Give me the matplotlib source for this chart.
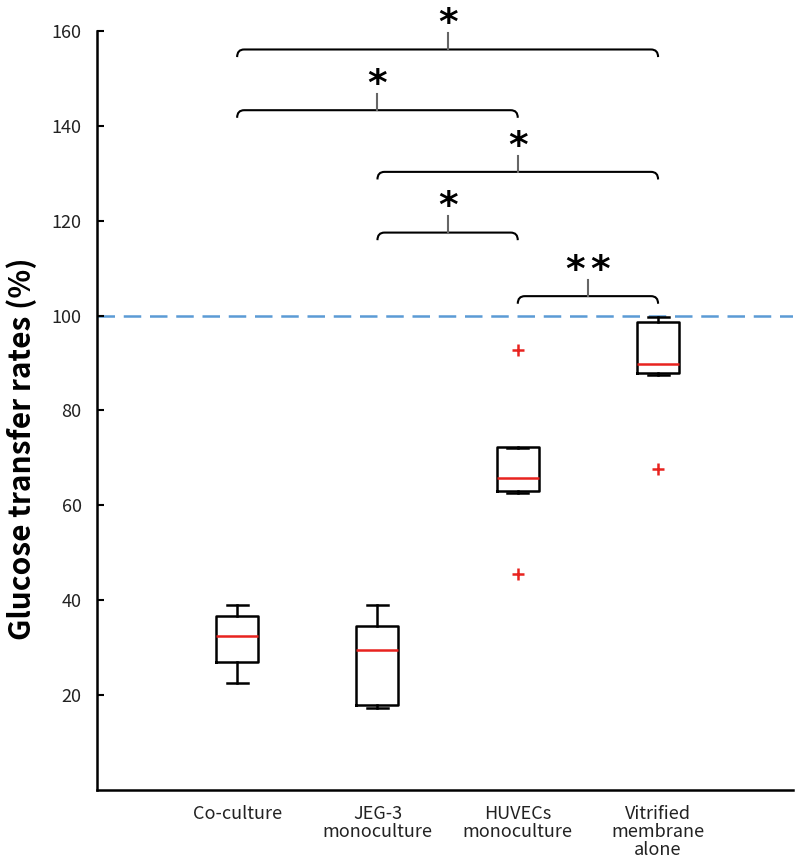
import matplotlib
matplotlib.use("Agg")
import matplotlib.pyplot as plt
from matplotlib.path import Path
from matplotlib.patches import PathPatch

plt.rcParams['font.family'] = ['Noto Sans CJK KR', 'DejaVu Sans']

groups = ["Co-culture", "JEG-3\nmonoculture", "HUVECs\nmonoculture", "Vitrified\nmembrane\nalone"]
whislo = [22.5, 17.2, 62.5, 87.4]
q1 = [27.0, 18.0, 63.1, 87.9]
med = [32.4, 29.6, 65.7, 89.8]
q3 = [36.7, 34.5, 72.4, 98.6]
whishi = [39.0, 39.0, 72.0, 99.8]
fliers = [[], [], [92.8, 45.6], [67.6]]

# significance brackets: (left group, right group), bar height, number of stars
brk_pairs = [(1, 4), (1, 3), (2, 4), (2, 3), (3, 4)]
brk_y = [156.1, 143.3, 130.3, 117.5, 104.1]
brk_stars = [1, 1, 1, 1, 2]

ref_line = 100

fig = plt.figure(figsize=(8, 8.68), dpi=100)
ax = fig.add_axes([0.121, 0.0899, 0.870, 0.8744])

stats = []
for i in range(len(groups)):
    stats.append(dict(whislo=whislo[i], q1=q1[i], med=med[i], q3=q3[i],
                      whishi=whishi[i], fliers=fliers[i]))

ax.bxp(stats, positions=range(1, len(groups) + 1), widths=0.3, showfliers=True,
       boxprops=dict(color='black', linewidth=1.8),
       whiskerprops=dict(color='black', linewidth=1.8),
       capprops=dict(color='black', linewidth=1.8),
       medianprops=dict(color='#e8231f', linewidth=1.8),
       flierprops=dict(marker='+', markeredgecolor='#e8231f', markersize=9,
                       markeredgewidth=1.8))

ax.axhline(ref_line, color='#5b9bd5', lw=1.8, ls=(0, (7, 3.5)), zorder=0)

drop, dx = 1.6, 0.05
for (a, b), y, n in zip(brk_pairs, brk_y, brk_stars):
    verts = [(a, y - drop), (a, y), (a + dx, y), (b - dx, y), (b, y), (b, y - drop)]
    codes = [Path.MOVETO, Path.CURVE3, Path.CURVE3, Path.LINETO, Path.CURVE3, Path.CURVE3]
    ax.add_patch(PathPatch(Path(verts, codes), fill=False, edgecolor='black',
                           lw=1.5, clip_on=False))
    mid = (a + b) / 2
    ax.plot([mid, mid], [y, y + 3.4], color='#666666', lw=1.5, clip_on=False)
    for k in range(n):
        xs = mid + (k - (n - 1) / 2) * 0.178
        ax.text(xs, y + 3.2, "*", ha='center', va='baseline', fontsize=27,
                family='DejaVu Sans', fontweight='bold', clip_on=False)

ax.set_xlim(0, 4.96)
ax.set_ylim(0, 160)
ax.set_yticks(range(20, 161, 20))
ax.set_xticks(range(1, len(groups) + 1))
ax.set_xticklabels(groups, fontsize=13, color='#222222', linespacing=1.0)
ax.tick_params(axis='x', length=0, pad=11)
ax.tick_params(axis='y', direction='in', length=5, width=1.5, labelsize=13,
               labelcolor='#222222', pad=11)
for s in ['top', 'right']:
    ax.spines[s].set_visible(False)
for s in ['left', 'bottom']:
    ax.spines[s].set_linewidth(1.8)

ax.set_ylabel("Glucose transfer rates (%)", fontsize=21.5, fontweight='bold')
ax.yaxis.set_label_coords(-0.086, 0.449)

fig.savefig("out.png", dpi=100)
